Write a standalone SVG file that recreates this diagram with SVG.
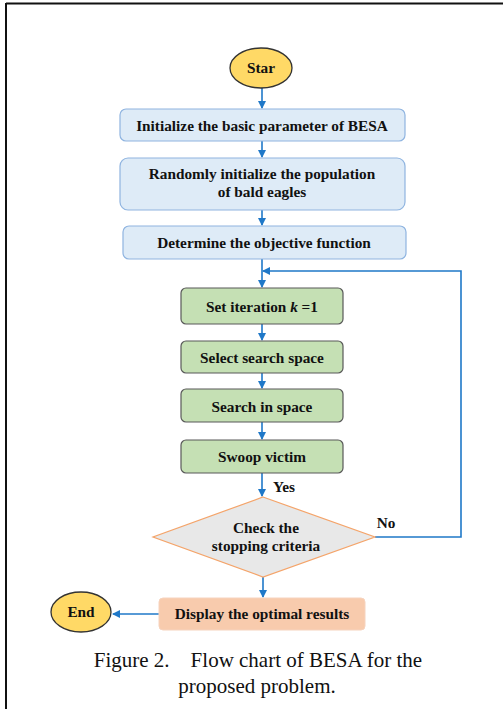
<svg xmlns="http://www.w3.org/2000/svg" width="503" height="709" viewBox="0 0 503 709">
<style>
.t{font-family:"Liberation Serif","Times New Roman",serif;font-weight:bold;font-size:15.3px;fill:#111;text-anchor:middle}
.cap{font-family:"Liberation Serif","Times New Roman",serif;font-size:21px;fill:#111;text-anchor:middle}
.blue{fill:#DEEBF7;stroke:#8FB4E0;stroke-width:1.2}
.green{fill:#C5E0B4;stroke:#595959;stroke-width:1.2}
.term{fill:#FFD966;stroke:#333;stroke-width:1.3}
.c{fill:none;stroke:#1F78C8;stroke-width:1.6}
</style>
<defs>
<marker id="ah" markerWidth="8" markerHeight="8" refX="7" refY="4" orient="auto" markerUnits="userSpaceOnUse">
<path d="M0,0 L8,4 L0,8 Z" fill="#1F78C8"/>
</marker>
</defs>
<rect width="503" height="709" fill="#fff"/>
<path d="M6,3.5 H503 M6,3 V709" stroke="#111" stroke-width="2" fill="none"/>

<g id="connectors">
<path class="c" d="M262,88 V108" marker-end="url(#ah)"/>
<path class="c" d="M262,141 V157" marker-end="url(#ah)"/>
<path class="c" d="M262,210 V225" marker-end="url(#ah)"/>
<path class="c" d="M262,259 V287" marker-end="url(#ah)"/>
<path class="c" d="M262,324 V340" marker-end="url(#ah)"/>
<path class="c" d="M262,373 V388" marker-end="url(#ah)"/>
<path class="c" d="M262,422 V439" marker-end="url(#ah)"/>
<path class="c" d="M262,473 V496" marker-end="url(#ah)"/>
<path class="c" d="M375,537 H461 V271 H263" marker-end="url(#ah)"/>
<path class="c" d="M263,577 V597" marker-end="url(#ah)"/>
<path class="c" d="M159,614 H113" marker-end="url(#ah)"/>
<text class="t" x="284" y="492">Yes</text>
<text class="t" x="386" y="528">No</text>
</g>

<g id="start">
<ellipse class="term" cx="261" cy="68" rx="31" ry="20"/>
<text class="t" x="261" y="73">Star</text>
</g>
<g id="init-params">
<rect class="blue" x="120" y="109" width="285" height="32" rx="6"/>
<text class="t" x="262" y="131">Initialize the basic parameter of BESA</text>
</g>
<g id="init-population">
<rect class="blue" x="120" y="158" width="285" height="52" rx="8"/>
<text class="t" x="262" y="179">Randomly initialize the population</text>
<text class="t" x="262" y="197">of bald eagles</text>
</g>
<g id="objective">
<rect class="blue" x="123" y="226" width="283" height="33" rx="6"/>
<text class="t" x="264" y="248">Determine the objective function</text>
</g>
<g id="set-iteration">
<rect class="green" x="181" y="288" width="162" height="36" rx="5"/>
<text class="t" x="262" y="312">Set iteration <tspan font-style="italic">k</tspan> =1</text>
</g>
<g id="select-space">
<rect class="green" x="181" y="341" width="162" height="32" rx="5"/>
<text class="t" x="262" y="363">Select search space</text>
</g>
<g id="search-space">
<rect class="green" x="181" y="389" width="162" height="33" rx="5"/>
<text class="t" x="262" y="412">Search in space</text>
</g>
<g id="swoop">
<rect class="green" x="181" y="440" width="162" height="33" rx="5"/>
<text class="t" x="262" y="462">Swoop victim</text>
</g>
<g id="check">
<polygon points="263,497 375,537 263,577 153,537" fill="#E8E8E8" stroke="#F4A46A" stroke-width="1.2"/>
<text class="t" x="266" y="533">Check the</text>
<text class="t" x="266" y="551">stopping criteria</text>
</g>
<g id="display">
<rect x="159" y="598" width="206" height="32" rx="4" fill="#F8CBAD" stroke="#F6D3BE" stroke-width="1"/>
<text class="t" x="262" y="619">Display the optimal results</text>
</g>
<g id="end">
<ellipse class="term" cx="81" cy="612" rx="30" ry="20"/>
<text class="t" x="81" y="617">End</text>
</g>

<text class="cap" x="258" y="667" xml:space="preserve">Figure 2.    Flow chart of BESA for the</text>
<text class="cap" x="257" y="693">proposed problem.</text>
</svg>
